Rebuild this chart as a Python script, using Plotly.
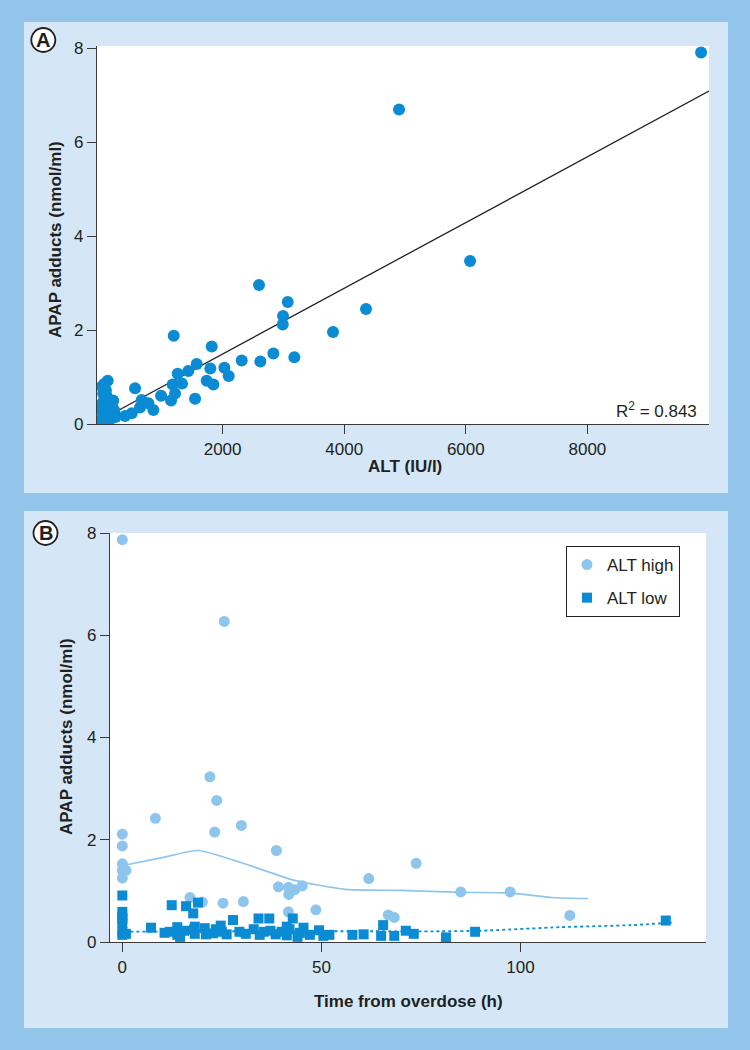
import plotly.graph_objects as go

W, H = 750, 1050
OUTER = "#93c5eb"
PANEL = "#d5e7f7"
DARK = "#0a8bd3"
LIGHT = "#8ec5ec"
INK = "#231f20"
AXIS = "#3a3a3a"
FONT = "Arial, 'Liberation Sans', Helvetica, sans-serif"

# --- panel A: ALT vs APAP adducts ---
alt_iu = [20, 30, 40, 50, 25, 60, 35, 80, 15, 110, 70, 100, 130, 160, 190, 90, 50,
          220, 140, 10, 240, 120, 200, 60,
          395, 505, 560, 641, 669, 779, 861, 988, 1152, 1179, 1196, 1218, 1261,
          1333, 1436, 1547, 1574, 1738, 1798, 1821, 1848, 2029, 2100, 2314, 2599,
          2621, 2835, 2989, 2994, 3071, 3180, 3816, 4359, 4902, 6070, 9870]
adducts_a = [0.05, 0.15, 0.25, 0.35, 0.45, 0.55, 0.65, 0.72, 0.80, 0.92, 0.12, 0.30,
             0.45, 0.20, 0.35, 0.60, 0.85, 0.28, 0.08, 0.30, 0.15, 0.18, 0.50, 0.02,
             0.17, 0.23, 0.76, 0.35, 0.51, 0.44, 0.30, 0.60, 0.50, 0.84, 1.88, 0.65,
             1.07, 0.86, 1.13, 0.54, 1.28, 0.92, 1.18, 1.65, 0.84, 1.20, 1.02, 1.35,
             2.96, 1.33, 1.50, 2.12, 2.30, 2.60, 1.42, 1.96, 2.45, 6.70, 3.47, 7.91]
fit_slope = 0.000700
fit_intercept = 0.09
fit_alt = [0, 10000]
r_squared = "0.843"

# --- panel B: time from overdose ---
high_t = [0, 0, 0, 0, 0, 0.9, 0, 8.3, 17, 20.1, 22, 23.2, 23.7, 25.6, 25.3, 29.9,
          30.4, 38.7, 39.2, 41.7, 41.7, 41.8, 43.3, 45.2, 48.6, 61.9, 66.8, 68.3,
          73.8, 85, 97.4, 112.4]
high_y = [7.87, 2.11, 1.88, 1.53, 1.40, 1.40, 1.25, 2.42, 0.87, 0.78, 3.23, 2.15,
          2.77, 6.27, 0.76, 2.28, 0.79, 1.79, 1.08, 1.07, 0.59, 0.93, 1.02, 1.10,
          0.63, 1.24, 0.53, 0.48, 1.54, 0.98, 0.98, 0.52]
low_t = [0, 0, 0, 0, 0, 0, 0.9, 0, 7.2, 10.6, 11.9, 12.4, 13.8, 13.8, 14.5, 16,
         17.8, 18.2, 18.2, 19, 20.7, 22.8, 24.7, 26.2, 27.8, 29.4, 34.2, 34.5, 36.9,
         37.2, 41.3, 41.3, 42.8, 44.6, 47.1, 49.4, 52, 57.8, 60.6, 65, 65.5, 68.3,
         71.2, 73.2, 81.3, 88.6, 136.5,
         15.5, 18, 21, 23.5, 25, 31, 33, 35.5, 38.5, 40, 42, 45.5, 44, 50.5]
low_y = [0.91, 0.59, 0.50, 0.37, 0.20, 0.14, 0.16, 0.45, 0.28, 0.18, 0.20, 0.72,
         0.29, 0.14, 0.10, 0.70, 0.56, 0.30, 0.16, 0.77, 0.27, 0.17, 0.32, 0.15,
         0.43, 0.20, 0.46, 0.14, 0.46, 0.22, 0.30, 0.13, 0.46, 0.18, 0.14, 0.23,
         0.14, 0.14, 0.15, 0.12, 0.33, 0.12, 0.22, 0.16, 0.09, 0.20, 0.42,
         0.22, 0.24, 0.15, 0.25, 0.20, 0.16, 0.25, 0.20, 0.15, 0.20, 0.25, 0.28,
         0.10, 0.12]
high_trend_t = [0.5, 10, 19, 30, 43, 56, 70, 85, 97, 108, 117]
high_trend_y = [1.50, 1.65, 1.79, 1.55, 1.21, 1.03, 1.01, 0.97, 0.96, 0.87, 0.85]
low_trend_t = [0.5, 20, 40, 60, 80, 90, 110, 128, 138]
low_trend_y = [0.20, 0.21, 0.21, 0.21, 0.21, 0.22, 0.29, 0.33, 0.38]


def fx(p):
    return p / W


def fy(p):
    return 1 - p / H


fig = go.Figure()

fig.add_trace(go.Scatter(
    x=fit_alt, y=[fit_intercept + fit_slope * a for a in fit_alt],
    mode="lines", line=dict(color=INK, width=1.3), showlegend=False,
    xaxis="x", yaxis="y", hoverinfo="skip",
))
fig.add_trace(go.Scatter(
    x=alt_iu, y=adducts_a, mode="markers",
    marker=dict(color=DARK, size=12), showlegend=False,
    xaxis="x", yaxis="y",
))

fig.add_trace(go.Scatter(
    x=high_trend_t, y=high_trend_y, mode="lines",
    line=dict(color=LIGHT, width=1.6, shape="spline", smoothing=0.6),
    showlegend=False, xaxis="x2", yaxis="y2", hoverinfo="skip",
))
fig.add_trace(go.Scatter(
    x=low_trend_t, y=low_trend_y, mode="lines",
    line=dict(color=DARK, width=1.8, dash="dot", shape="spline", smoothing=0.6),
    showlegend=False, xaxis="x2", yaxis="y2", hoverinfo="skip",
))
fig.add_trace(go.Scatter(
    x=high_t, y=high_y, mode="markers", name="ALT high", legendgroup="h",
    marker=dict(color=LIGHT, size=11, symbol="circle"),
    xaxis="x2", yaxis="y2",
))
fig.add_trace(go.Scatter(
    x=low_t, y=low_y, mode="markers", name="ALT low", legendgroup="l",
    marker=dict(color=DARK, size=10, symbol="square"),
    xaxis="x2", yaxis="y2",
))

axis_common = dict(
    showgrid=False, zeroline=False, showline=True, linecolor=AXIS, linewidth=1.4,
    ticks="outside", ticklen=9, tickwidth=1.4, tickcolor=AXIS,
    tickfont=dict(family=FONT, size=17, color=INK), automargin=False,
)

fig.update_layout(
    width=W, height=H,
    margin=dict(l=0, r=0, t=0, b=0),
    paper_bgcolor=OUTER, plot_bgcolor="white",
    font=dict(family=FONT, color=INK),
    xaxis=dict(domain=[fx(97), fx(709)], range=[-66, 10000], anchor="y",
               tickvals=[2000, 4000, 6000, 8000], **axis_common),
    yaxis=dict(domain=[fy(424), fy(46)], range=[0, 8.05], anchor="x",
               tickvals=[0, 2, 4, 6, 8], **axis_common),
    xaxis2=dict(domain=[fx(110), fx(706)], range=[-3.1, 146.6], anchor="y2",
                tickvals=[0, 50, 100], **axis_common),
    yaxis2=dict(domain=[fy(942), fy(533)], range=[0, 8], anchor="x2",
                tickvals=[0, 2, 4, 6, 8], **axis_common),
    legend=dict(x=fx(566), y=fy(546), xanchor="left", yanchor="top",
                bgcolor="white", bordercolor="#222", borderwidth=1,
                font=dict(family=FONT, size=17, color=INK),
                traceorder="grouped", tracegroupgap=8),
)

# panel backgrounds, then white plot areas on top of them
for top, bottom in [(22, 493), (511, 1028)]:
    fig.add_shape(type="rect", xref="paper", yref="paper", layer="below",
                  x0=fx(24), x1=fx(728), y0=fy(bottom), y1=fy(top),
                  fillcolor=PANEL, line=dict(width=0))
for xr, yr in [("x", "y"), ("x2", "y2")]:
    fig.add_shape(type="rect", xref=f"{xr} domain", yref=f"{yr} domain",
                  layer="below", x0=0, x1=1, y0=0, y1=1,
                  fillcolor="white", line=dict(width=0))

# panel letters
for letter, cx, cy in [("A", 43.3, 40), ("B", 45.5, 533)]:
    r = 12
    fig.add_shape(type="circle", xref="paper", yref="paper",
                  x0=fx(cx - r), x1=fx(cx + r), y0=fy(cy + r), y1=fy(cy - r),
                  fillcolor="white", line=dict(color=INK, width=1.8))
    fig.add_annotation(x=fx(cx), y=fy(cy), xref="paper", yref="paper",
                       xanchor="center", yanchor="middle",
                       text=f"<b>{letter}</b>", showarrow=False,
                       font=dict(family=FONT, size=20, color=INK))

title_font = dict(family=FONT, size=17, color=INK)
for text, x, y, angle in [
    ("<b>APAP adducts (nmol/ml)</b>", 56, 240, -90),
    ("<b>APAP adducts (nmol/ml)</b>", 66, 737, -90),
    ("<b>ALT (IU/l)</b>", 405, 466, 0),
    ("<b>Time from overdose (h)</b>", 408, 1001, 0),
]:
    fig.add_annotation(x=fx(x), y=fy(y), xref="paper", yref="paper",
                       xanchor="center", yanchor="middle", textangle=angle,
                       text=text, showarrow=False, font=title_font)
fig.add_annotation(x=fx(699), y=fy(410), xref="paper", yref="paper",
                   xanchor="right", yanchor="middle",
                   text=f"R<sup>2</sup> = {r_squared}",
                   showarrow=False, font=dict(family=FONT, size=17, color=INK))

# the page body has a default 8px margin; remove it so the figure sits at 0,0
fig.write_html("out.html", config={"displayModeBar": False},
               post_script="document.body.style.margin='0';")
